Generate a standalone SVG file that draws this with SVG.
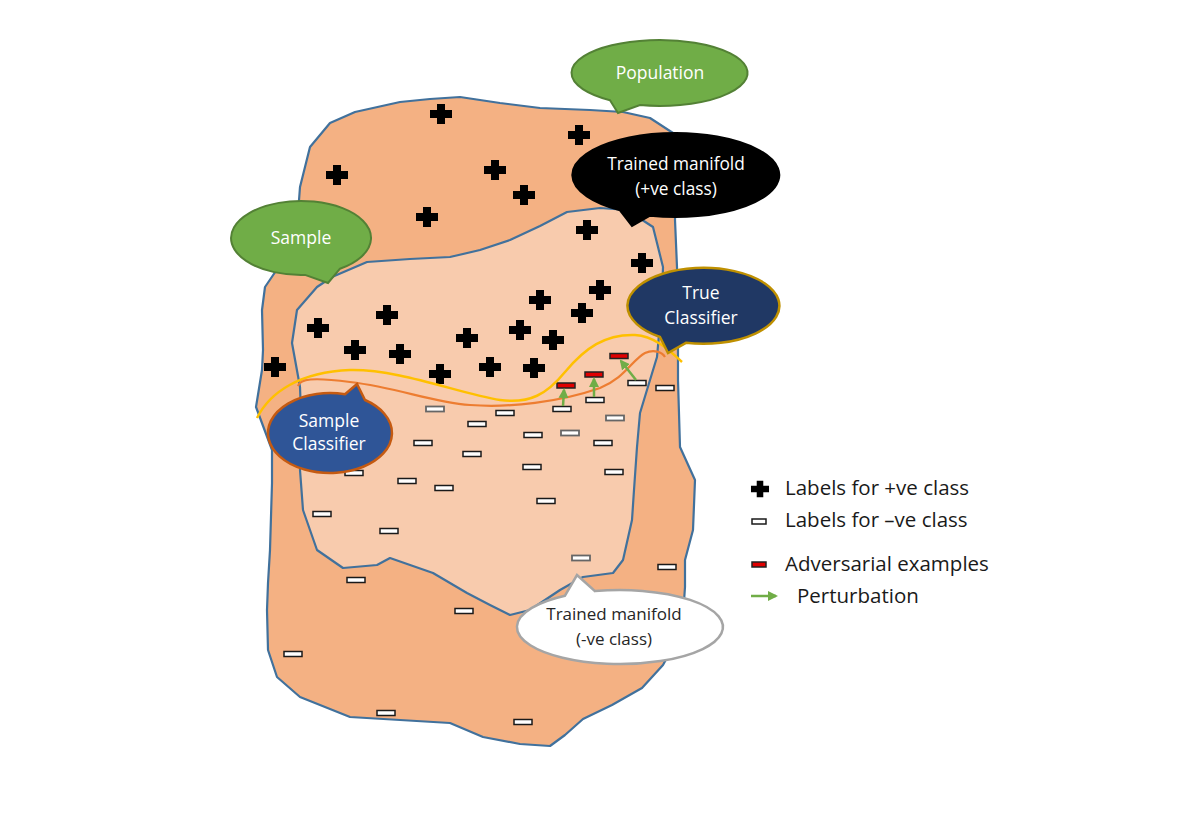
<svg xmlns="http://www.w3.org/2000/svg" width="1196" height="813" viewBox="0 0 1196 813">
<style>
.blob{stroke:#41719C;stroke-width:2.2;stroke-linejoin:round}
.plus{fill:#000}
.neg{fill:#fff;stroke:#1a1a1a;stroke-width:1.5}
.negg{fill:#fff;stroke:#666;stroke-width:1.8}
.adv{fill:#E00000;stroke:#222;stroke-width:1.5}
.t{font-family:"Open Sans","Liberation Sans",sans-serif;text-anchor:middle}
.lg{font-family:"Open Sans","Liberation Sans",sans-serif;font-size:20.5px;fill:#1a1a1a}
.arr{stroke:#70AD47;stroke-width:2.5;fill:none}
</style>
<defs>
<path id="cr" d="M-11,-4H-4V-10H4V-4H11V4H4V10H-4V4H-11Z"/>
<marker id="ah" viewBox="0 0 10 10" refX="8" refY="5" markerWidth="4" markerHeight="4" orient="auto" markerUnits="strokeWidth">
<path d="M0,0L10,5L0,10Z" fill="#70AD47"/>
</marker>
</defs>
<rect width="1196" height="813" fill="#fff"/>
<g id="population">
<path class="blob" fill="#F4B183" d="M330,123 L355,112 L373,108 L400,102 L430,99 L460,97 L500,103 L540,108 L590,110 L623,112 L650,118 L673,133 L676,180 L675,220 L677,267 L678,320 L678,380 L680,447 L695,480 L693,530 L685,560 L685,587 L682,630 L663,665 L642,688 L612,705 L583,719 L565,735 L550,746 L520,744 L483,737 L450,723 L400,720 L350,717 L300,697 L277,677 L268,650 L267,610 L268,583 L270,550 L272,483 L272,450 L256,407 L262,370 L263,350 L262,310 L265,287 L282,262 L296,240 L300,187 L310,147 Z"/>
</g>
<g id="sample">
<path class="blob" fill="#F8CBAD" d="M332,277 L367,262 L410,259 L450,257 L480,250 L510,240 L540,226 L567,212 L600,208 L627,210 L653,227 L658,247 L663,267 L662,300 L660,323 L657,357 L650,380 L640,413 L637,447 L634,490 L632,520 L623,560 L613,573 L583,577 L560,590 L530,610 L510,615 L490,605 L467,593 L433,573 L390,558 L377,565 L343,568 L317,550 L303,510 L300,470 L302,440 L300,387 L292,343 L297,310 L317,287 Z"/>
</g>
<g id="positive-labels" class="plus">
<use href="#cr" x="441" y="114"/><use href="#cr" x="579" y="135"/><use href="#cr" x="337" y="175"/>
<use href="#cr" x="495" y="170"/><use href="#cr" x="524" y="195"/><use href="#cr" x="427" y="217"/>
<use href="#cr" x="587" y="230"/><use href="#cr" x="642" y="263"/><use href="#cr" x="540" y="300"/>
<use href="#cr" x="600" y="290"/><use href="#cr" x="582" y="313"/><use href="#cr" x="387" y="315"/>
<use href="#cr" x="318" y="328"/><use href="#cr" x="520" y="330"/><use href="#cr" x="553" y="340"/>
<use href="#cr" x="467" y="338"/><use href="#cr" x="355" y="350"/><use href="#cr" x="400" y="354"/>
<use href="#cr" x="490" y="367"/><use href="#cr" x="534" y="368"/><use href="#cr" x="440" y="374"/>
<use href="#cr" x="275" y="367"/>
</g>
<g id="negative-labels">
<rect class="negg" x="426" y="406.5" width="18" height="5"/>
<rect class="neg" x="496" y="410.5" width="18" height="5"/>
<rect class="neg" x="468" y="421.5" width="18" height="5"/>
<rect class="neg" x="553" y="406.5" width="18" height="5"/>
<rect class="neg" x="586" y="397.5" width="18" height="5"/>
<rect class="neg" x="628" y="380.5" width="18" height="5"/>
<rect class="neg" x="656" y="385.5" width="18" height="5"/>
<rect class="negg" x="606" y="415.5" width="18" height="5"/>
<rect class="negg" x="561" y="430.5" width="18" height="5"/>
<rect class="neg" x="524" y="432.5" width="18" height="5"/>
<rect class="neg" x="414" y="440.5" width="18" height="5"/>
<rect class="neg" x="463" y="451.5" width="18" height="5"/>
<rect class="neg" x="594" y="440.5" width="18" height="5"/>
<rect class="neg" x="523" y="464.5" width="18" height="5"/>
<rect class="neg" x="605" y="469.5" width="18" height="5"/>
<rect class="neg" x="345" y="470.5" width="18" height="5"/>
<rect class="neg" x="398" y="478.5" width="18" height="5"/>
<rect class="neg" x="435" y="485.5" width="18" height="5"/>
<rect class="neg" x="537" y="498.5" width="18" height="5"/>
<rect class="neg" x="313" y="511.5" width="18" height="5"/>
<rect class="neg" x="380" y="528.5" width="18" height="5"/>
<rect class="negg" x="572" y="555.5" width="18" height="5"/>
<rect class="neg" x="658" y="564.5" width="18" height="5"/>
<rect class="neg" x="347" y="577.5" width="18" height="5"/>
<rect class="neg" x="455" y="608.5" width="18" height="5"/>
<rect class="neg" x="284" y="651.5" width="18" height="5"/>
<rect class="neg" x="377" y="710.5" width="18" height="5"/>
<rect class="neg" x="514" y="719.5" width="18" height="5"/>
</g>
<g id="adversarial-examples">
<rect class="adv" x="557" y="383" width="18" height="5"/>
<rect class="adv" x="585" y="372" width="18" height="5"/>
<rect class="adv" x="610" y="353.5" width="18" height="5"/>
</g>
<g id="connectors">
<path id="true-boundary" d="M257,418 C270,392 300,372 350,370 C400,369 460,394 500,400 C530,404 547,394 565,372 C585,348 605,334 635,335 C655,336 670,351 682,362" fill="none" stroke="#FFC000" stroke-width="2.5"/>
<path id="sample-boundary" d="M298,386 C300,379 312,377 350,382 C400,388 430,402 470,405 C510,408 560,402 600,388 C625,378 632,360 645,353 C654,349 662,352 665,357" fill="none" stroke="#ED7D31" stroke-width="2.2"/>
<line class="arr" x1="563" y1="406" x2="564" y2="390" marker-end="url(#ah)"/>
<line class="arr" x1="594" y1="397" x2="594" y2="379" marker-end="url(#ah)"/>
<line class="arr" x1="636" y1="380" x2="621" y2="361" marker-end="url(#ah)"/>
</g>
<g id="population-bubble">
<path d="M610,100.2 L618,113 L640,105.1 A88 33 0 1 0 610,100.2 Z" fill="#70AD47" stroke="#538135" stroke-width="2"/>
<text class="t" x="660" y="79" font-size="17.5" fill="#fff">Population</text>
</g>
<g id="trained-positive-bubble">
<path d="M620,210.4 L632,226 L650,215.7 A103.5 42 0 1 0 620,210.4 Z" fill="#000" stroke="#000" stroke-width="2"/>
<text class="t" x="676" y="170" font-size="17.3" fill="#fff">Trained manifold</text>
<text class="t" x="676" y="195" font-size="17.3" fill="#fff">(+ve class)</text>
</g>
<g id="sample-bubble">
<path d="M305,274.9 L328,283 L340,268.7 A70 37 0 1 0 305,274.9 Z" fill="#70AD47" stroke="#538135" stroke-width="2"/>
<text class="t" x="301" y="244" font-size="17.5" fill="#fff">Sample</text>
</g>
<g id="true-classifier-bubble">
<path d="M660,337 L668,353 L686,342.8 A76 38 0 1 0 660,337 Z" fill="#203864" stroke="#BF9000" stroke-width="2.5"/>
<text class="t" x="701" y="299" font-size="17.5" fill="#fff">True</text>
<text class="t" x="701" y="324" font-size="17.5" fill="#fff">Classifier</text>
</g>
<g id="sample-classifier-bubble">
<path d="M345,394.2 L357,384 L365,400 A62 40 0 1 1 345,394.2 Z" fill="#2F5597" stroke="#C55A11" stroke-width="2.5"/>
<text class="t" x="329" y="427" font-size="17.5" fill="#fff">Sample</text>
<text class="t" x="329" y="450" font-size="17.5" fill="#fff">Classifier</text>
</g>
<g id="trained-negative-bubble">
<path d="M565,595.7 L577,575 L595,591.1 A103 37 0 1 1 565,595.7 Z" fill="#fff" stroke="#A5A5A5" stroke-width="2.5"/>
<text class="t" x="614" y="620" font-size="17" fill="#262626">Trained manifold</text>
<text class="t" x="614" y="645" font-size="17" fill="#262626">(-ve class)</text>
</g>
<g id="legend">
<use href="#cr" x="760" y="489" transform="translate(760 489) scale(0.82) translate(-760 -489)"/>
<text class="lg" x="785" y="495">Labels for +ve class</text>
<rect class="neg" x="752" y="519" width="14" height="5"/>
<text class="lg" x="785" y="527">Labels for –ve class</text>
<rect class="adv" x="752" y="562" width="14" height="5"/>
<text class="lg" x="785" y="571">Adversarial examples</text>
<line class="arr" x1="751" y1="596" x2="776" y2="596" marker-end="url(#ah)"/>
<text class="lg" x="797" y="603">Perturbation</text>
</g>
</svg>
